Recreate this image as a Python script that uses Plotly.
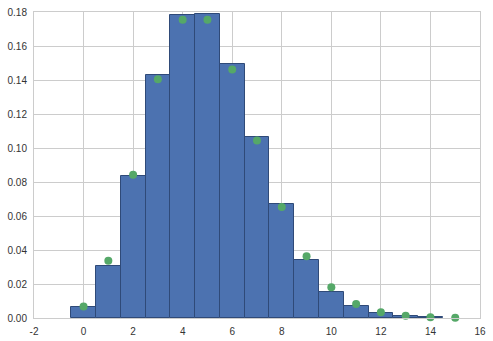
import plotly.graph_objects as go

bins = [0, 1, 2, 3, 4, 5, 6, 7, 8, 9, 10, 11, 12, 13, 14]
hist_density = [0.0063, 0.0306, 0.0834, 0.1432, 0.1780, 0.1790, 0.1492, 0.1064,
                0.0670, 0.0342, 0.0153, 0.0071, 0.0028, 0.0012, 0.0006]
pmf_k = [0, 1, 2, 3, 4, 5, 6, 7, 8, 9, 10, 11, 12, 13, 14, 15]
pmf_vals = [0.0067, 0.0337, 0.0842, 0.1404, 0.1755, 0.1755, 0.1462, 0.1044,
            0.0653, 0.0363, 0.0181, 0.0082, 0.0034, 0.0013, 0.0005, 0.0002]
x_ticks = [-2, 0, 2, 4, 6, 8, 10, 12, 14, 16]
y_ticks = [0.00, 0.02, 0.04, 0.06, 0.08, 0.10, 0.12, 0.14, 0.16, 0.18]

fig = go.Figure()
fig.add_trace(go.Bar(
    x=bins, y=hist_density, width=1,
    marker=dict(color="#4C72B0", line=dict(color="#2f4a78", width=1)),
    showlegend=False,
))
fig.add_trace(go.Scatter(
    x=pmf_k, y=pmf_vals, mode="markers",
    marker=dict(color="#55A868", size=8),
    showlegend=False, cliponaxis=False,
))

axis_common = dict(
    showgrid=True, gridcolor="#cccccc", gridwidth=1,
    showline=True, linecolor="#cccccc", linewidth=1, mirror=True,
    zeroline=False, ticks="outside", ticklen=4, tickcolor="rgba(0,0,0,0)",
    automargin=False,
    tickfont=dict(family="Liberation Sans, Arial, sans-serif", size=10, color="#333333"),
)
fig.update_xaxes(range=[-2, 16], tickvals=x_ticks, ticktext=[str(v) for v in x_ticks], **axis_common)
fig.update_yaxes(range=[0, 0.18], tickvals=y_ticks, ticktext=[f"{v:.2f}" for v in y_ticks], **axis_common)

fig.update_layout(
    width=493, height=341,
    margin=dict(l=34, r=13, t=12, b=23),
    paper_bgcolor="white", plot_bgcolor="white",
    bargap=0,
)
fig.write_html("out.html")
